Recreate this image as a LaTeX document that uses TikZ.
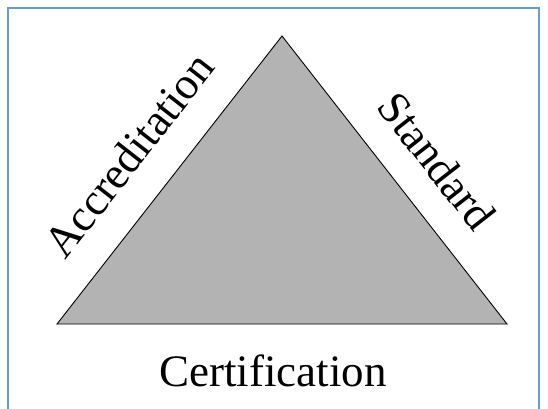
\documentclass[tikz,border=0pt]{standalone}
\usepackage{fontspec}
\setmainfont{Liberation Serif}
\definecolor{framecol}{RGB}{108,155,210}
\definecolor{trifill}{RGB}{179,179,179}
\begin{document}
\begin{tikzpicture}[x=1pt,y=1pt,
  sidelabel/.style={font=\fontsize{45}{50}\selectfont, inner sep=0pt}]
  \useasboundingbox (0,0) rectangle (548,408);
  \fill[white] (0,0) rectangle (548,408);
  % outer frame (open at the bottom edge of the page)
  \begin{scope}
    \clip (0,0) rectangle (548,408);
    \draw[framecol, line width=1.8pt] (8,-20) -- (8,400) -- (539,400) -- (539,-20);
  \end{scope}
  % triangle corners
  \coordinate (apex) at (282,372);
  \coordinate (bl) at (57,84);
  \coordinate (br) at (507,84);
  \filldraw[fill=trifill, draw=black, line width=0.9pt, line join=miter] (apex) -- (br) -- (bl) -- cycle;
  % side labels
  \node[sidelabel, rotate=52] (accr) at (129,253) {Accreditation};
  \node[sidelabel, rotate=-52] (std) at (437,247) {Standard};
  \node[sidelabel, anchor=base] (cert) at (273,22) {Certification};
\end{tikzpicture}
\end{document}
